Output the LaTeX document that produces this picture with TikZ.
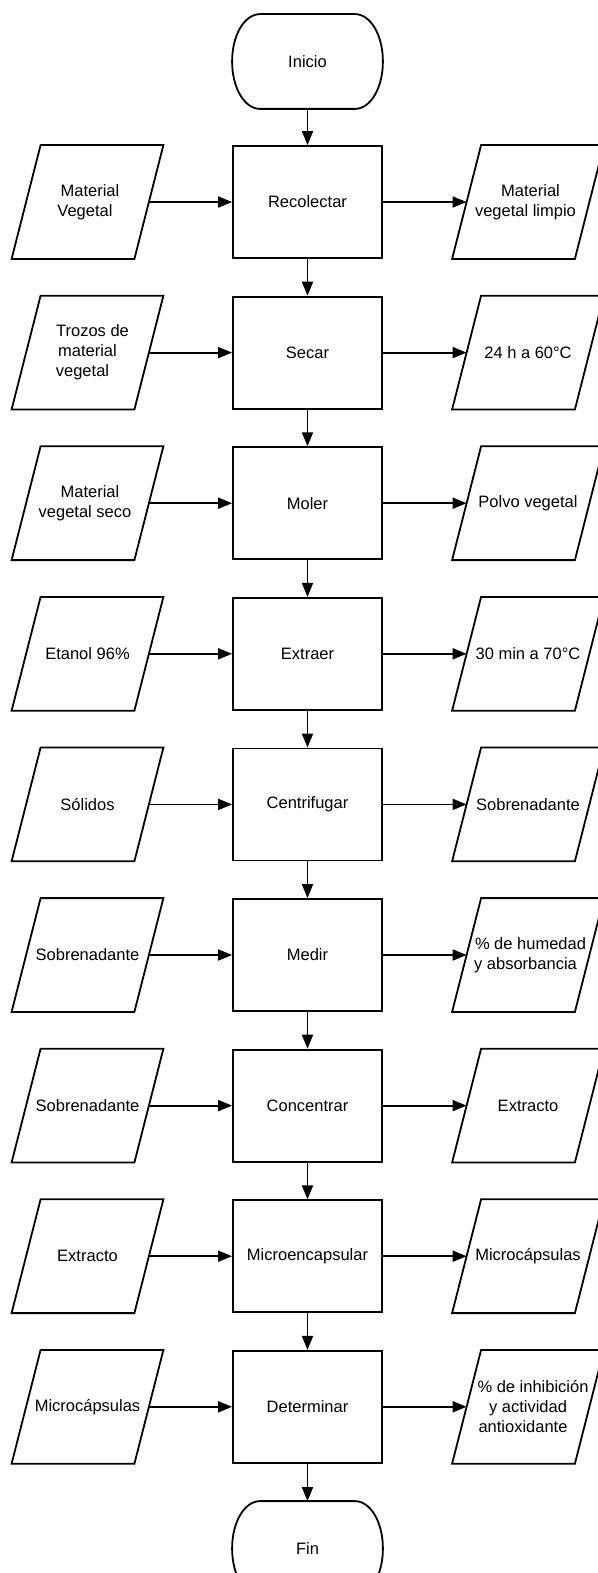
\documentclass[tikz,border=0pt]{standalone}
\usepackage{fontspec}
\setmainfont{Liberation Sans}
\usetikzlibrary{arrows.meta}
\begin{document}
\begin{tikzpicture}[x=1pt,y=-1pt,
  line width=1.8pt,
  font=\fontsize{16.5}{20}\selectfont,
  procbox/.style={draw, rectangle, minimum width=149pt, minimum height=112pt, inner sep=0pt, align=center},
  termbox/.style={rectangle, minimum width=149pt, minimum height=93pt, inner sep=0pt},
  iobox/.style={rectangle, minimum width=121pt, minimum height=112pt, inner sep=0pt, align=center},
  flow/.style={-{Triangle[length=14pt,width=11pt]}}
]
\useasboundingbox (0,0) rectangle (597,1573);

% terminals
\node[termbox] (start) at (307.5,61.5) {Inicio};
\node[termbox] (fin) at (307.5,1548.5) {Fin};
\foreach \t in {start,fin}
  \draw ([xshift=28pt]\t.north west) -- ([xshift=-28pt]\t.north east)
    .. controls ([xshift=-12.5pt]\t.north east) and ([yshift=-20.8pt]\t.north east) .. (\t.east)
    .. controls ([yshift=20.8pt]\t.south east) and ([xshift=-12.5pt]\t.south east) .. ([xshift=-28pt]\t.south east)
    -- ([xshift=28pt]\t.south west)
    .. controls ([xshift=12.5pt]\t.south west) and ([yshift=20.8pt]\t.south west) .. (\t.west)
    .. controls ([yshift=-20.8pt]\t.north west) and ([xshift=12.5pt]\t.north west) .. cycle;

% process boxes
\node[procbox] (b1) at (307.5,202) {Recolectar};
\node[procbox] (b2) at (307.5,352.6) {Secar};
\node[procbox] (b3) at (307.5,503.2) {Moler};
\node[procbox] (b4) at (307.5,653.8) {Extraer};
\node[procbox] (b5) at (307.5,804.4) {Centrifugar};
\node[procbox] (b6) at (307.5,955) {Medir};
\node[procbox] (b7) at (307.5,1105.6) {Concentrar};
\node[procbox] (b8) at (307.5,1256.2) {Microencapsular};
\node[procbox] (b9) at (307.5,1406.8) {Determinar};

% inputs (left)
\node[iobox] (l1) at (87.5,202) {\hspace*{5pt}Material\\Vegetal\hspace*{5pt}};
\node[iobox] (l2) at (87.5,352.6) {\hspace*{10pt}Trozos de\\material\\vegetal\hspace*{10pt}};
\node[iobox] (l3) at (87.5,503.2) {\hspace*{5pt}Material\\vegetal seco\hspace*{5pt}};
\node[iobox] (l4) at (87.5,653.8) {Etanol 96\%};
\node[iobox] (l5) at (87.5,804.4) {Sólidos};
\node[iobox] (l6) at (87.5,955) {Sobrenadante};
\node[iobox] (l7) at (87.5,1105.6) {Sobrenadante};
\node[iobox] (l8) at (87.5,1256.2) {Extracto};
\node[iobox] (l9) at (87.5,1406.8) {Microcápsulas};

% outputs (right)
\node[iobox] (r1) at (528,202) {\hspace*{5pt}Material\\vegetal limpio\hspace*{5pt}};
\node[iobox] (r2) at (528,352.6) {24 h a 60°C};
\node[iobox] (r3) at (528,503.2) {Polvo vegetal};
\node[iobox] (r4) at (528,653.8) {30 min a 70°C};
\node[iobox] (r5) at (528,804.4) {Sobrenadante};
\node[iobox] (r6) at (528,955) {\hspace*{5pt}\% de humedad\\y absorbancia\hspace*{5pt}};
\node[iobox] (r7) at (528,1105.6) {Extracto};
\node[iobox] (r8) at (528,1256.2) {Microcápsulas};
\node[iobox] (r9) at (528,1406.8) {\hspace*{10pt}\% de inhibición\\y actividad\\antioxidante\hspace*{10pt}};

% parallelogram outlines
\foreach \n in {l1,l2,l3,l4,l5,l6,l7,l8,l9,r1,r2,r3,r4,r5,r6,r7,r8,r9}
  \draw ([xshift=14.5pt]\n.north west) -- ([xshift=14.5pt]\n.north east)
     -- ([xshift=-14.5pt]\n.south east) -- ([xshift=-14.5pt]\n.south west) -- cycle;

% main flow
\draw[flow] (start) -- (b1);
\draw[flow] (b1) -- (b2);
\draw[flow] (b2) -- (b3);
\draw[flow] (b3) -- (b4);
\draw[flow] (b4) -- (b5);
\draw[flow] (b5) -- (b6);
\draw[flow] (b6) -- (b7);
\draw[flow] (b7) -- (b8);
\draw[flow] (b8) -- (b9);
\draw[flow] (b9) -- (fin);

% side flows
\foreach \i in {1,...,9} {
  \draw[flow] (l\i) -- (b\i);
  \draw[flow] (b\i) -- (r\i);
}
\end{tikzpicture}
\end{document}
